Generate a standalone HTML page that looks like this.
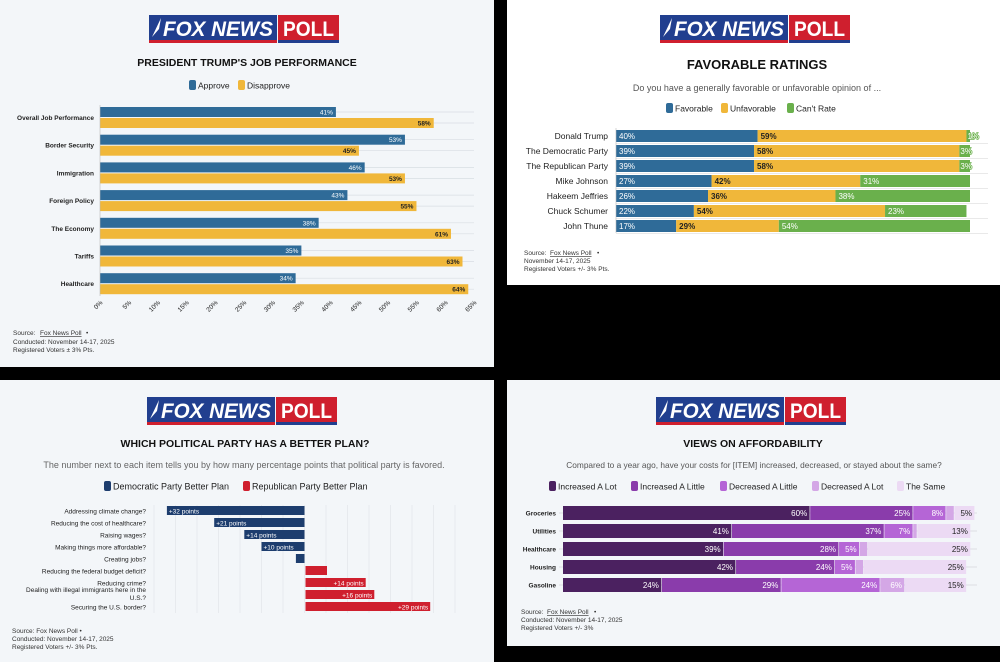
<!DOCTYPE html>
<html><head><meta charset="utf-8">
<style>
html,body{margin:0;padding:0;background:#000;}
svg{display:block;font-family:"Liberation Sans",sans-serif;}
</style></head>
<body>
<svg id="root" width="1000" height="662" viewBox="0 0 1000 662" xmlns="http://www.w3.org/2000/svg"></svg>
<script>
// ---------- Chart 1 data ----------
const jobCategories = ["Overall Job Performance","Border Security","Immigration","Foreign Policy","The Economy","Tariffs","Healthcare"];
const jobApprove = [41,53,46,43,38,35,34];
const jobDisapprove = [58,45,53,55,61,63,64];
const jobTicks = [0,5,10,15,20,25,30,35,40,45,50,55,60,65];
// ---------- Chart 2 data ----------
const favNames = ["Donald Trump","The Democratic Party","The Republican Party","Mike Johnson","Hakeem Jeffries","Chuck Schumer","John Thune"];
const favFavorable = [40,39,39,27,26,22,17];
const favUnfavorable = [59,58,58,42,36,54,29];
const favCantRate = [1,3,3,31,38,23,54];
// ---------- Chart 3 data ----------
const planItems = ["Addressing climate change?","Reducing the cost of healthcare?","Raising wages?","Making things more affordable?","Creating jobs?","Reducing the federal budget deficit?","Reducing crime?","Dealing with illegal immigrants here in the U.S.?","Securing the U.S. border?"];
const planMargins = [-32,-21,-14,-10,-2,5,14,16,29];
const planGridTicks = [-35,-30,-25,-20,-15,-10,-5,0,5,10,15,20,25,30,35];
// ---------- Chart 4 data ----------
const affItems = ["Groceries","Utilities","Healthcare","Housing","Gasoline"];
const affIncLot = [60,41,39,42,24];
const affIncLittle = [25,37,28,24,29];
const affDecLittle = [8,7,5,5,24];
const affDecLot = [2,1,2,2,6];
const affSame = [5,13,25,25,15];

const NS="http://www.w3.org/2000/svg";
const root=document.getElementById('root');
function el(tag,attrs,parent,txt){const e=document.createElementNS(NS,tag);for(const k in attrs)e.setAttribute(k,attrs[k]);if(txt!==undefined)e.textContent=txt;(parent||root).appendChild(e);return e;}
function grp(parent){return el('g',{},parent);}

function logo(cx,y,parent){
  const g=grp(parent);
  
  
  const x=cx-95;
  el('rect',{x:x,y:y,width:128,height:28,fill:'#213f8f'},g);
  el('rect',{x:x+129,y:y,width:61,height:28,fill:'#cf1f2e'},g);
  el('rect',{x:x,y:y+25,width:128,height:3,fill:'#cf1f2e'},g);
  el('rect',{x:x+129,y:y+25,width:61,height:3,fill:'#213f8f'},g);
  el('path',{d:`M${x+3} ${y+22} L${x+12} ${y+3} L${x+10} ${y+14} Z`,fill:'#fff'},g);
  el('text',{x:x+14,y:y+21,fill:'#fff','font-size':21,'font-weight':'bold','font-style':'italic',textLength:110,lengthAdjust:'spacingAndGlyphs'},g,'FOX NEWS');
  el('text',{x:x+134,y:y+21,fill:'#fff','font-size':21,'font-weight':'bold',textLength:51,lengthAdjust:'spacingAndGlyphs'},g,'POLL');
}
function txt(x,y,s,size,opts,parent){const a=Object.assign({x:x,y:y,'font-size':size,fill:'#222'},opts||{});return el('text',a,parent,s);}
function legendSwatch(x,y,color,label,size,parent){
  const g=grp(parent);
  
  
  el('rect',{x:x,y:y-5,width:7,height:10,rx:2,fill:color},g);
  txt(x+9,y+3.5,label,size,{fill:'#222'},g);
}

// ================= Panel 1 =================
(function(){
  const p=grp();
  
  
  el('rect',{x:0,y:0,width:494,height:367,fill:'#f3f6f9'},p);
  logo(244,15,p);
  const t=txt(247,66,"PRESIDENT TRUMP'S JOB PERFORMANCE",10.5,{'font-weight':'bold','text-anchor':'middle',fill:'#111'},p);
  
  
  legendSwatch(189,85,'#2f6b98','Approve',8.5,p);
  legendSwatch(238,85,'#f0b73a','Disapprove',8.5,p);
  const x0=100, xs=374/65;
  const X=v=>x0+v*xs;
  const rowY=i=>107+i*27.7;
  jobCategories.forEach((c,i)=>{
    const y=rowY(i);
    el('line',{x1:x0,x2:474,y1:y+5,y2:y+5,stroke:'#d8dde3','stroke-width':0.7},p);
    el('line',{x1:x0,x2:474,y1:y+16,y2:y+16,stroke:'#d8dde3','stroke-width':0.7},p);
    const lab=txt(94,y+13,c,6.5,{'text-anchor':'end','font-weight':'bold',fill:'#222'},p);
    
    
    const b1=el('rect',{x:x0,y:y,width:X(jobApprove[i])-x0,height:10,fill:'#2f6b98'},p);
    
    
    txt(X(jobApprove[i])-3,y+7.5,jobApprove[i]+'%',6.5,{'text-anchor':'end',fill:'#fff'},p);
    const b2=el('rect',{x:x0,y:y+11,width:X(jobDisapprove[i])-x0,height:10,fill:'#f0b73a'},p);
    
    
    txt(X(jobDisapprove[i])-3,y+18.5,jobDisapprove[i]+'%',6.5,{'text-anchor':'end',fill:'#222','font-weight':'bold'},p);
  });
  el('line',{x1:x0,x2:x0,y1:105,y2:296,stroke:'#bbb','stroke-width':0.6},p);
  jobTicks.forEach(v=>{
    const tk=txt(0,0,v+'%',6.5,{'text-anchor':'end',fill:'#222',transform:`translate(${X(v)+3},${303}) rotate(-45)`},p);
    
    
  });
  txt(13,335,'Source: ',6.5,{fill:'#333'},p);
  const s1=txt(40,335,'Fox News Poll',6.5,{fill:'#333','text-decoration':'underline'},p);
  
  
  txt(86,335,'•',6.5,{fill:'#333'},p);
  txt(13,344,'Conducted: November 14-17, 2025',6.5,{fill:'#333'},p);
  txt(13,352,'Registered Voters ± 3% Pts.',6.5,{fill:'#333'},p);
})();

// ================= Panel 2 =================
(function(){
  const p=grp();
  
  
  el('rect',{x:507,y:0,width:493,height:285,fill:'#ffffff'},p);
  logo(755,15,p);
  const t=txt(757,69,"FAVORABLE RATINGS",13,{'font-weight':'bold','text-anchor':'middle',fill:'#111'},p);
  
  
  txt(757,91,"Do you have a generally favorable or unfavorable opinion of ...",9,{'text-anchor':'middle',fill:'#555'},p);
  legendSwatch(666,108,'#2f6b98','Favorable',8.5,p);
  legendSwatch(721,108,'#f0b73a','Unfavorable',8.5,p);
  legendSwatch(787,108,'#6ab04c',"Can't Rate",8.5,p);
  const x0=616, xs=354/100;
  const X=v=>x0+v*xs;
  const series=[[favFavorable,'#2f6b98','#fff'],[favUnfavorable,'#f0b73a','#222'],[favCantRate,'#6ab04c','#fff']];
  favNames.forEach((n,i)=>{
    const y=130+i*15;
    el('line',{x1:x0,x2:988,y1:y+13.5,y2:y+13.5,stroke:'#e2e2e2','stroke-width':0.7},p);
    const lab=txt(608,y+9,n,8.5,{'text-anchor':'end',fill:'#222'},p);
    
    
    let acc=0;
    series.forEach(([arr,col,tc],k)=>{
      const r=el('rect',{x:X(acc),y:y,width:arr[i]*xs,height:12,fill:col},p);
      
      
      if(k===2 && arr[i]<5){
        txt(X(acc)+1,y+9,arr[i]+'%',8,{fill:'#fff',stroke:'#6ab04c','stroke-width':1.5,'paint-order':'stroke'},p);
      } else {
        txt(X(acc)+3,y+9,arr[i]+'%',8,{fill:tc,'font-weight':col==='#f0b73a'?'bold':'normal'},p);
      }
      acc+=arr[i];
    });
  });
  el('line',{x1:x0,x2:x0,y1:128,y2:233,stroke:'#bbb','stroke-width':0.6},p);
  txt(524,255,'Source: ',6.5,{fill:'#333'},p);
  const s1=txt(550,255,'Fox News Poll',6.5,{fill:'#333','text-decoration':'underline'},p);
  
  
  txt(597,255,'•',6.5,{fill:'#333'},p);
  txt(524,263,'November 14-17, 2025',6.5,{fill:'#333'},p);
  txt(524,271,'Registered Voters +/- 3% Pts.',6.5,{fill:'#333'},p);
})();

// ================= Panel 3 =================
(function(){
  const p=grp();
  
  
  el('rect',{x:0,y:380,width:494,height:282,fill:'#f3f6f9'},p);
  logo(242,397,p);
  const t=txt(245,447,"WHICH POLITICAL PARTY HAS A BETTER PLAN?",10.5,{'font-weight':'bold','text-anchor':'middle',fill:'#111'},p);
  
  
  txt(244,468,"The number next to each item tells you by how many percentage points that political party is favored.",9,{'text-anchor':'middle',fill:'#666'},p);
  legendSwatch(104,486,'#1d3d6e','Democratic Party Better Plan',9,p);
  legendSwatch(243,486,'#cf1f2e','Republican Party Better Plan',9,p);
  const x0=304.5, xs=4.3;
  const X=v=>x0+v*xs;
  planGridTicks.forEach(v=>{
    el('line',{x1:X(v),x2:X(v),y1:505,y2:613,stroke:'#e1e5ea','stroke-width':0.7},p);
  });
  planItems.forEach((n,i)=>{
    const y=506+i*12;
    const v=planMargins[i];
    if(i===7){
      txt(146,592,'Dealing with illegal immigrants here in the',6.5,{'text-anchor':'end',fill:'#222'},p);
      txt(146,600,'U.S.?',6.5,{'text-anchor':'end',fill:'#222'},p);
    } else {
      const lab=txt(146,y+7.5,n,6.5,{'text-anchor':'end',fill:'#222'},p);
      
      
    }
    const col=v<0?'#1d3d6e':'#cf1f2e';
    const bx=v<0?X(v):x0+1, bw=Math.abs(v)*xs;
    const r=el('rect',{x:bx,y:y,width:bw,height:9,fill:col},p);
    
    
    if(Math.abs(v)>=10){
      if(v<0) txt(bx+2,y+7.5,'+'+Math.abs(v)+' points',6.5,{fill:'#fff'},p);
      else txt(bx+bw-2,y+7.5,'+'+v+' points',6.5,{fill:'#fff','text-anchor':'end'},p);
    }
  });
  txt(12,633,'Source: Fox News Poll •',6.5,{fill:'#333'},p);
  txt(12,641,'Conducted: November 14-17, 2025',6.5,{fill:'#333'},p);
  txt(12,649,'Registered Voters +/- 3% Pts.',6.5,{fill:'#333'},p);
})();

// ================= Panel 4 =================
(function(){
  const p=grp();
  
  
  el('rect',{x:507,y:380,width:493,height:266,fill:'#f3f6f9'},p);
  logo(751,397,p);
  const t=txt(753,447,"VIEWS ON AFFORDABILITY",10.5,{'font-weight':'bold','text-anchor':'middle',fill:'#111'},p);
  
  
  txt(754,468,"Compared to a year ago, have your costs for [ITEM] increased, decreased, or stayed about the same?",8.3,{'text-anchor':'middle',fill:'#555'},p);
  const cols=['#4b2160','#8a3cab','#b565d6','#d4a7e6','#ecdaf4'];
  const names=['Increased A Lot','Increased A Little','Decreased A Little','Decreased A Lot','The Same'];
  const lx=[549,631,720,812,897];
  names.forEach((n,k)=>legendSwatch(lx[k],486,cols[k],n,8.5,p));
  const x0=563, xs=412/100;
  const X=v=>x0+v*xs;
  const series=[affIncLot,affIncLittle,affDecLittle,affDecLot,affSame];
  affItems.forEach((n,i)=>{
    const y=506+i*18;
    el('line',{x1:559,x2:977,y1:y+7,y2:y+7,stroke:'#d5d5dc','stroke-width':0.7},p);
    const lab=txt(556,y+9.5,n,6.5,{'text-anchor':'end',fill:'#222','font-weight':'bold'},p);
    
    
    let acc=0;
    series.forEach((arr,k)=>{
      const r=el('rect',{x:X(acc),y:y,width:arr[i]*xs-0.6,height:14,fill:cols[k]},p);
      
      
      if(arr[i]>=5) txt(X(acc+arr[i])-3,y+10,arr[i]+'%',8,{'text-anchor':'end',fill:k===4?'#222':'#fff'},p);
      acc+=arr[i];
    });
  });
  txt(521,614,'Source: ',6.5,{fill:'#333'},p);
  const s1=txt(547,614,'Fox News Poll',6.5,{fill:'#333','text-decoration':'underline'},p);
  
  
  txt(594,614,'•',6.5,{fill:'#333'},p);
  txt(521,622,'Conducted: November 14-17, 2025',6.5,{fill:'#333'},p);
  txt(521,630,'Registered Voters +/- 3%',6.5,{fill:'#333'},p);
})();
</script>
</body></html>
